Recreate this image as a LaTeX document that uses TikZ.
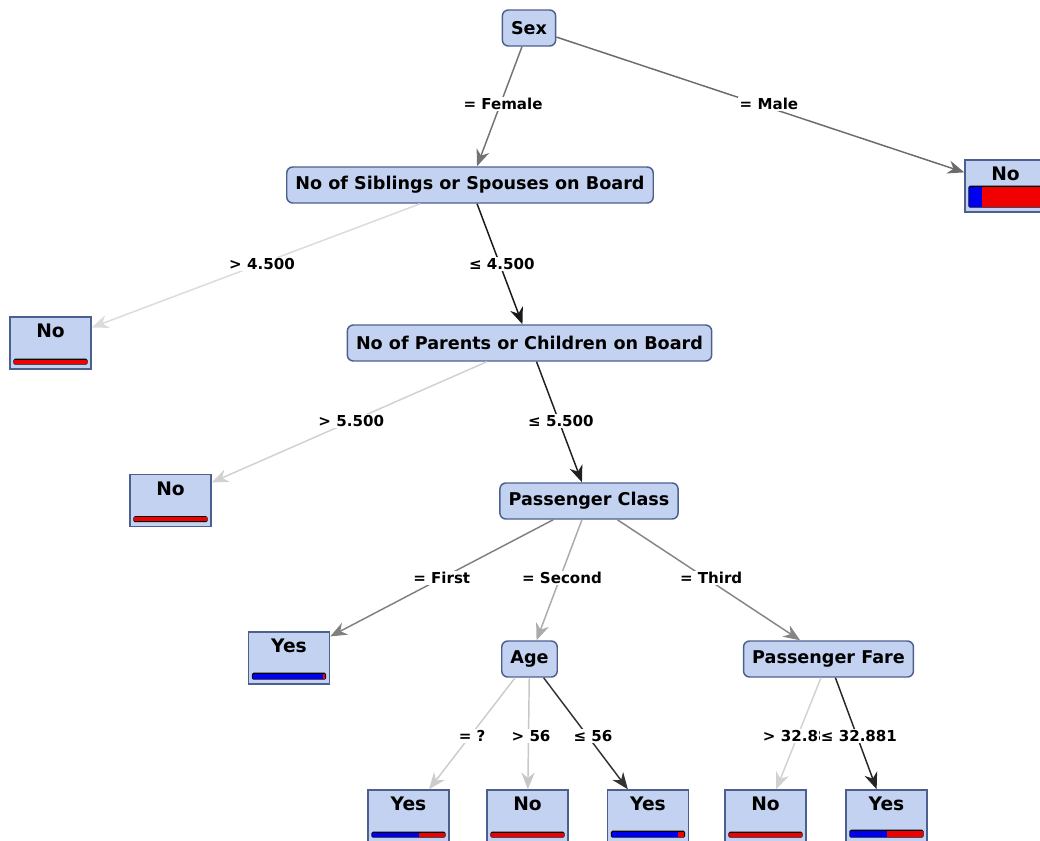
\documentclass[tikz,border=0pt]{standalone}
\usepackage{fontspec}
\setmainfont{DejaVu Sans}
\usetikzlibrary{arrows.meta,calc}

\definecolor{nodefill}{HTML}{C3D2F0}
\definecolor{nodeline}{HTML}{4D5F8E}
\definecolor{barblue}{HTML}{0000F0}
\definecolor{barred}{HTML}{F00000}

\tikzset{
  inner/.style={draw=nodeline, fill=nodefill, line width=1.1pt, rounded corners=4.5pt,
    minimum height=27pt, inner xsep=6.5pt, inner ysep=3pt,
    font=\bfseries\fontsize{13.2pt}{15pt}\selectfont},
  leaf/.style={draw=nodeline, fill=nodefill, line width=1.1pt,
    minimum width=60.75pt, minimum height=39pt, inner xsep=0pt, inner ysep=4pt,
    text height=11.5pt, text depth=19.5pt,
    font=\bfseries\fontsize{14pt}{16pt}\selectfont},
  edge/.style={line width=1.1pt, -{Stealth[length=12.5pt,width=10pt,inset=4pt]}},
  lbl/.style={fill=white, inner sep=1pt, text=black,
    font=\bfseries\fontsize{11.3pt}{13pt}\selectfont},
}

% class distribution bar at the foot of a leaf: #1 leaf, #2 share of blue, #3 bar height
\newcommand\leafbar[3]{%
  \coordinate (bl) at ($(#1.south west)+(4,-5)$);
  \coordinate (br) at ($(#1.south east)+(-4,-5)$);
  \coordinate (il) at ($(bl)+(1.2,-1.2)$);
  \coordinate (ir) at ($(br)+(-1.2,-1.2)$);
  \coordinate (bm) at ($(il)!#2!(ir)$);
  \fill[black, rounded corners=1.2pt] (bl) rectangle ($(br)+(0,-#3)$);
  \fill[barred] (il) rectangle ($(ir)+(0,-#3+2.4)$);
  \fill[barblue] (il) rectangle ($(bm)+(0,-#3+2.4)$);
}

\begin{document}
\begin{tikzpicture}[x=0.75pt, y=-0.75pt]
\useasboundingbox (0,0) rectangle (1040,840);

% decision nodes
\node[inner] (sex)  at (529,28)    {Sex};
\node[inner] (sib)  at (470,185)   {No of Siblings or Spouses on Board};
\node[inner] (par)  at (529.5,343) {No of Parents or Children on Board};
\node[inner] (pc)   at (589,501)   {Passenger Class};
\node[inner] (age)  at (529.5,659) {Age};
\node[inner] (fare) at (828.5,659) {Passenger Fare};

% leaves
\node[leaf] (noM)  at (1005.5,186) {No};
\node[leaf] (noA)  at (50.5,343)   {No};
\node[leaf] (noB)  at (170.5,500.5){No};
\node[leaf] (yesA) at (289,658)    {Yes};
\node[leaf] (yesB) at (408.5,816)  {Yes};
\node[leaf] (noC)  at (527.5,816)  {No};
\node[leaf] (yesC) at (648,816)    {Yes};
\node[leaf] (noD)  at (765.5,816)  {No};
\node[leaf] (yesD) at (886.5,816)  {Yes};

\leafbar{noM}{0.17}{22}
\leafbar{noA}{0}{6}
\leafbar{noB}{0}{6}
\leafbar{yesA}{0.97}{7}
\leafbar{yesB}{0.65}{6}
\leafbar{noC}{0}{6}
\leafbar{yesC}{0.92}{7}
\leafbar{noD}{0}{6}
\leafbar{yesD}{0.5}{8}

% branches
\draw[edge, draw=black!55] (sex) -- node[lbl, pos=.481, xshift=2pt] {= Female} (sib);
\draw[edge, draw=black!58] (sex) -- node[lbl, pos=.495, xshift=8pt] {= Male} (noM);
\draw[edge, draw=black!14] (sib) -- node[lbl, pos=.49, xshift=2pt] {> 4.500} (noA);
\draw[edge, draw=black!90] (sib) -- node[lbl, pos=.5, xshift=1.6pt] {≤ 4.500} (par);
\draw[edge, draw=black!18] (par) -- node[lbl, pos=.49, xshift=-0.6pt] {> 5.500} (noB);
\draw[edge, draw=black!88] (par) -- node[lbl, pos=.49, xshift=1.6pt] {≤ 5.500} (pc);
\draw[edge, draw=black!50] (pc) -- node[lbl, pos=.5] {= First} (yesA);
\draw[edge, draw=black!33] (pc) -- node[lbl, pos=.484, xshift=1.5pt] {= Second} (age);
\draw[edge, draw=black!48] (pc) -- node[lbl, pos=.484, xshift=4pt] {= Third} (fare);
\draw[edge, draw=black!20] (age) -- node[lbl, pos=.522, xshift=1.4pt] {= ?} (yesB);
\draw[edge, draw=black!22] (age) -- node[lbl, pos=.522, xshift=1.9pt] {> 56} (noC);
\draw[edge, draw=black!80] (age) -- node[lbl, pos=.522, xshift=4pt] {≤ 56} (yesC);
\draw[edge, draw=black!18] (fare) -- node[lbl, pos=.522, xshift=2.5pt] {> 32.881} (noD);
\draw[edge, draw=black!85] (fare) -- node[lbl, pos=.522, xshift=1.5pt] {≤ 32.881} (yesD);
\end{tikzpicture}
\end{document}
